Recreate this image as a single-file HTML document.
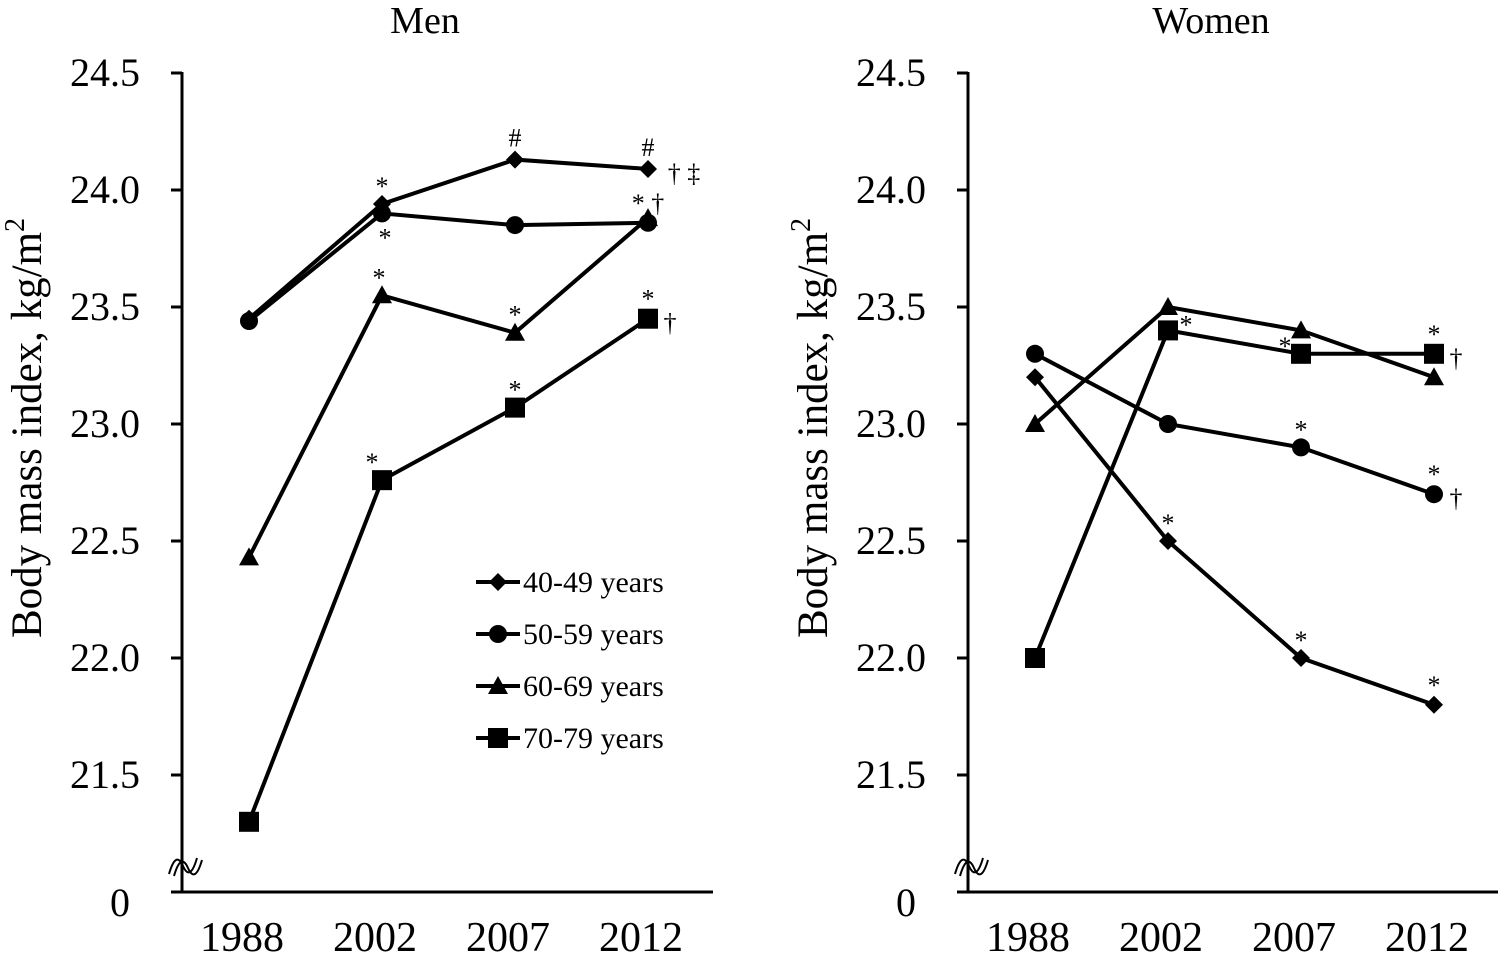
<!DOCTYPE html>
<html><head><meta charset="utf-8"><style>
body{margin:0;background:#fff}
svg{display:block;font-family:"Liberation Serif",serif}
</style></head><body>
<svg id="chart" width="1498" height="962" viewBox="0 0 1498 962"></svg>
<script>
const years=["1988","2002","2007","2012"];
const yTicks=[24.5,24.0,23.5,23.0,22.5,22.0,21.5];
const seriesNames=["40-49 years","50-59 years","60-69 years","70-79 years"];
const markers=["diamond","circle","triangle","square"];
const men40=[23.45,23.94,24.13,24.09];
const men50=[23.44,23.90,23.85,23.86];
const men60=[22.43,23.55,23.39,23.88];
const men70=[21.30,22.76,23.07,23.45];
const women40=[23.2,22.5,22.0,21.8];
const women50=[23.3,23.0,22.9,22.7];
const women60=[23.0,23.5,23.4,23.2];
const women70=[22.0,23.4,23.3,23.3];
const menAnn=[[0,1,"*",0,-16],[0,2,"#",0,-20],[0,3,"#",0,-20],[0,3,"† ‡",36,6],[1,1,"*",3,26],[1,3,"* †",0,-18],[2,1,"*",-3,-16],[2,2,"*",0,-16],[3,1,"*",-10,-16],[3,2,"*",0,-16],[3,3,"*",0,-18],[3,3,"†",22,6]];
const womenAnn=[[3,1,"*",18,-4],[3,2,"*",-16,-6],[3,3,"*",0,-18],[3,3,"†",22,6],[1,2,"*",0,-16],[1,3,"*",0,-18],[1,3,"†",22,6],[0,1,"*",0,-16],[0,2,"*",0,-16],[0,3,"*",0,-18]];
const NS="http://www.w3.org/2000/svg";
const svg=document.getElementById('chart');
function mk(tag,attrs,parent){const e=document.createElementNS(NS,tag);for(const k in attrs)e.setAttribute(k,attrs[k]);(parent||svg).appendChild(e);return e;}
const yv=v=>190+(24-v)*234;
function marker(g,type,x,y){
  let e;
  if(type==="diamond")e=mk('polygon',{points:`${x},${y-9} ${x+9},${y} ${x},${y+9} ${x-9},${y}`,fill:'#000'},g);
  else if(type==="circle")e=mk('circle',{cx:x,cy:y,r:9,fill:'#000'},g);
  else if(type==="triangle")e=mk('polygon',{points:`${x},${y-10} ${x+10},${y+8} ${x-10},${y+8}`,fill:'#000'},g);
  else e=mk('rect',{x:x-10,y:y-10,width:20,height:20,fill:'#000'},g);
  
  
}
function panel(name,ox,title,data,ann,legend){
  const g=mk('g',{});
  
  
  const ax=182+ox, xs=i=>249+ox+i*133;
  const t=mk('text',{x:ax+243,y:33,'font-size':38,'text-anchor':'middle'},g);t.textContent=title;
  
  const yl=mk('line',{x1:ax,y1:72,x2:ax,y2:892,stroke:'#000','stroke-width':3},g);
  
  const xl=mk('line',{x1:ax-11,y1:892,x2:ax+531,y2:892,stroke:'#000','stroke-width':3},g);
  
  const br=mk('path',{d:`M${ax-13},${874} q7,-24 14,-8 q7,16 14,-8 M${ax-8},${876} q7,-24 14,-8 q7,16 14,-8`,fill:'none',stroke:'#000','stroke-width':2},g);
  
  yTicks.forEach(v=>{
    const y=yv(v);
    mk('line',{x1:ax-11,y1:y,x2:ax,y2:y,stroke:'#000','stroke-width':3},g);
    const tt=mk('text',{x:ax-42,y:y+13,'font-size':40,'text-anchor':'end'},g);tt.textContent=v.toFixed(1);
    
  });
  const z=mk('text',{x:ax-52,y:916,'font-size':40,'text-anchor':'end'},g);z.textContent="0";
  
  years.forEach((yr,i)=>{
    const tt=mk('text',{x:xs(i)-7,y:951,'font-size':42,'text-anchor':'middle'},g);tt.textContent=yr;
    
  });
  const yt=mk('text',{x:0,y:0,'font-size':43,'text-anchor':'middle',transform:`translate(${ax-141},${428}) rotate(-90)`},g);
  yt.innerHTML='Body mass index, kg/m<tspan dy="-17" font-size="28">2</tspan>';
  
  data.forEach((arr,s)=>{
    const sg=mk('g',{},g);
    
    
    mk('polyline',{points:arr.map((v,i)=>xs(i)+','+yv(v)).join(' '),fill:'none',stroke:'#000','stroke-width':4},sg);
    arr.forEach((v,i)=>marker(sg,markers[s],xs(i),yv(v)));
  });
  ann.forEach(a=>{
    const tt=mk('text',{x:xs(a[1])+a[3],y:yv(data[a[0]][a[1]])+a[4]+7,'font-size':26,'text-anchor':'middle'},g);
    tt.textContent=a[2];
    
  });
  if(legend){
    seriesNames.forEach((n,s)=>{
      const lg=mk('g',{},g);
      
      const y=582+s*52;
      mk('line',{x1:476,y1:y,x2:520,y2:y,stroke:'#000','stroke-width':4},lg);
      marker(lg,markers[s],498,y);
      const tt=mk('text',{x:523,y:y+10,'font-size':30},lg);tt.textContent=n;
    });
  }
}
panel('men',0,'Men',[men40,men50,men60,men70],menAnn,true);
panel('women',786,'Women',[women40,women50,women60,women70],womenAnn,false);
</script>
</body></html>
